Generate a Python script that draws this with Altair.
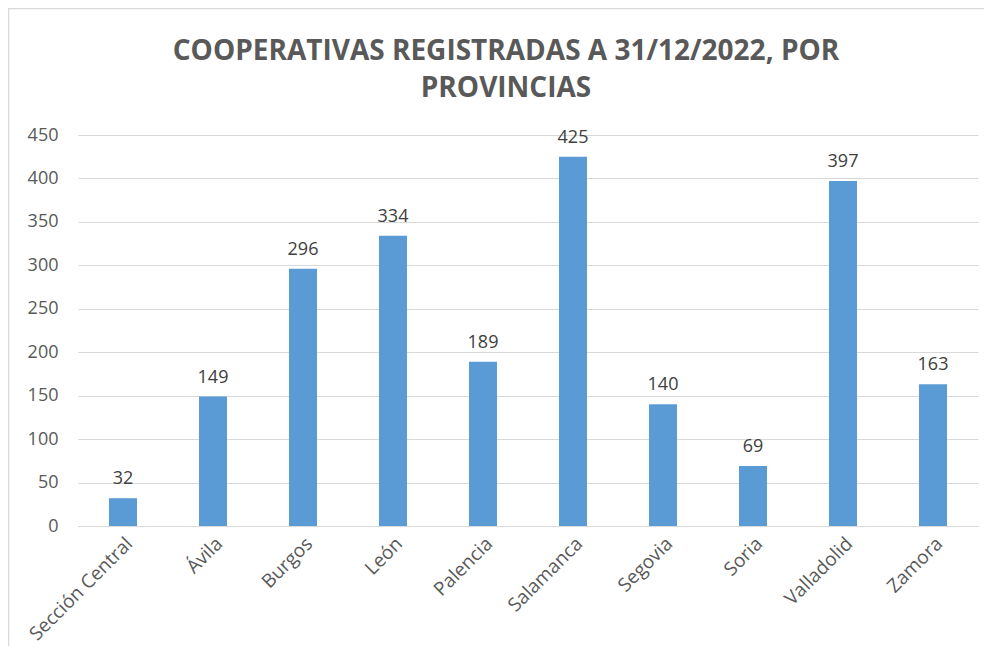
import altair as alt
import pandas as pd

provincias = ["Sección Central", "Ávila", "Burgos", "León", "Palencia",
              "Salamanca", "Segovia", "Soria", "Valladolid", "Zamora"]
cooperativas = [32, 149, 296, 334, 189, 425, 140, 69, 397, 163]
y_ticks = [0, 50, 100, 150, 200, 250, 300, 350, 400, 450]
titulo = ["COOPERATIVAS REGISTRADAS A 31/12/2022, POR", "PROVINCIAS"]

df = pd.DataFrame({"provincia": provincias, "valor": cooperativas})

GREY = "#595959"
GRID = "#d9d9d9"
FONT = "Open Sans"

x = alt.X("provincia:N", sort=provincias, title=None,
          scale=alt.Scale(paddingInner=0, paddingOuter=0),
          axis=alt.Axis(labelAngle=-45, labelFontSize=19, labelColor=GREY,
                        labelFont=FONT, ticks=False, domainColor=GRID,
                        labelPadding=8, grid=False))
y = alt.Y("valor:Q", title=None,
          scale=alt.Scale(domain=[0, 450], nice=False),
          axis=alt.Axis(values=y_ticks, labelFontSize=18, labelColor=GREY,
                        labelFont=FONT, ticks=False, domain=False,
                        gridColor=GRID, gridWidth=1, labelPadding=20))

bars = alt.Chart(df).mark_bar(color="#5B9BD5", size=28).encode(x=x, y=y)
labels = alt.Chart(df).mark_text(fontSize=18, color="#404040", font=FONT,
                                 baseline="alphabetic", dy=-14).encode(
    x=alt.X("provincia:N", sort=provincias),
    y="valor:Q", text="valor:Q")

frame = alt.Chart(alt.Data(values=[{}])).mark_rect(
    fill=None, stroke=GRID, strokeWidth=1.5).encode(
    x=alt.value(-69.5), x2=alt.value(1100),
    y=alt.value(-126.5), y2=alt.value(800))

title = alt.Chart(alt.Data(values=[{}])).mark_text(
    text=titulo, fontSize=28, font=FONT, fontWeight="bold",
    color=GREY, align="center", baseline="alphabetic", lineHeight=37).encode(
    x=alt.value(428), y=alt.value(-75))

chart = alt.layer(frame, title, bars, labels).properties(
    width=900, height=391,
    autosize=alt.AutoSizeParams(type="none"),
    padding={"left": 70, "top": 127, "right": 6, "bottom": 120},
).configure_view(stroke=None)

chart.save("out.html", embed_options={"renderer": "svg", "actions": False})
